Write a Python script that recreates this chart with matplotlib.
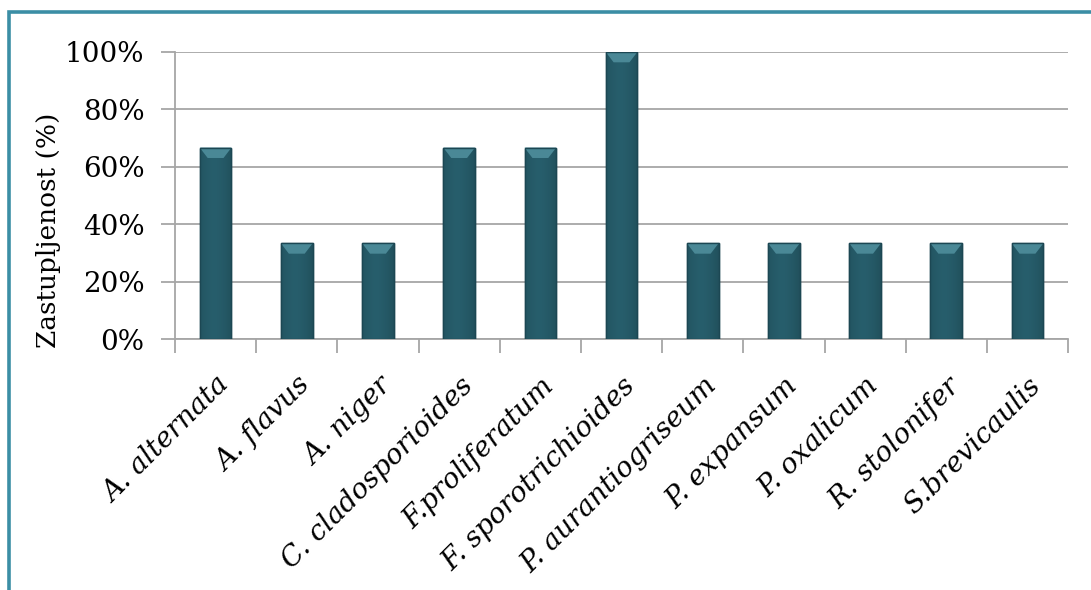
import matplotlib.pyplot as plt
import numpy as np
from matplotlib.patches import Polygon, Rectangle

# zastupljenost vrsta plijesni
species = ['A. alternata', 'A. flavus', 'A. niger', 'C. cladosporioides',
           'F.proliferatum', 'F. sporotrichioides', 'P. aurantiogriseum',
           'P. expansum', 'P. oxalicum', 'R. stolonifer', 'S.brevicaulis']
share = [66.67, 33.33, 33.33, 66.67, 66.67, 100.0,
         33.33, 33.33, 33.33, 33.33, 33.33]
yticks = [0, 20, 40, 60, 80, 100]

plt.rcParams['font.family'] = ['DejaVu Serif']

fig = plt.figure(figsize=(10.91, 5.90), dpi=100)
ax = fig.add_axes([0.1604, 0.4254, 0.8186, 0.4865])

# okvir grafikona
fig.patches.append(Rectangle((0.0087, -0.05), 1.2, 1.03, transform=fig.transFigure,
                             fill=False, edgecolor='#3B8EA5', linewidth=2.6))

x = np.arange(len(species))
width = 0.39
bars = ax.bar(x, share, width=width, color='#275E6C', edgecolor='#1C4753',
              linewidth=1.0, zorder=3)

# horizontalni gradijent i gornja kosina svakog stupca
grad = np.linspace(0, 1, 64)
shade = 1 - 0.35 * np.abs(grad - 0.45) ** 1.5
for b in bars:
    x0, w, h = b.get_x(), b.get_width(), b.get_height()
    img = np.outer(np.ones(2), shade)
    rgb = np.array([0x27, 0x5E, 0x6C]) / 255
    im = ax.imshow(img[..., None] * rgb, extent=(x0, x0 + w, 0, h),
                   aspect='auto', zorder=3.5, interpolation='bilinear')
    im.set_clip_path(b)
    bev = 3.6
    ax.add_patch(Polygon([(x0, h), (x0 + w, h), (x0 + w * 0.75, h - bev),
                          (x0 + w * 0.25, h - bev)], closed=True,
                         facecolor='#4A8896', edgecolor='none', zorder=4))
    ax.add_patch(Rectangle((x0, 0), w, h, fill=False, edgecolor='#1C4753',
                           linewidth=1.0, zorder=4.5))

ax.set_xlim(-0.5, len(species) - 0.5)
ax.set_ylim(0, 100)
ax.set_yticks(yticks)
ax.set_yticklabels([f'{v}%' for v in yticks], fontsize=20)
ax.grid(axis='y', color='#A6A6A6', linewidth=1.3, zorder=0)

ax.set_xticks(x)
ax.set_xticklabels(species, rotation=45, ha='right', rotation_mode='anchor',
                   fontsize=20, style='italic')
ax.set_xticks(np.arange(-0.5, len(species)), minor=True)
ax.tick_params(axis='x', which='major', length=0, pad=24)
ax.tick_params(axis='x', which='minor', length=10, color='#A6A6A6', width=1.3)
ax.tick_params(axis='y', length=10, color='#A6A6A6', width=1.3, pad=12)

for side in ['top', 'right']:
    ax.spines[side].set_visible(False)
for side in ['left', 'bottom']:
    ax.spines[side].set_color('#A6A6A6')
    ax.spines[side].set_linewidth(1.3)

ax.set_ylabel('Zastupljenost (%)', fontsize=19, va='center')
ax.yaxis.set_label_coords(-0.142, 0.38)

fig.savefig('out.png', dpi=100)
